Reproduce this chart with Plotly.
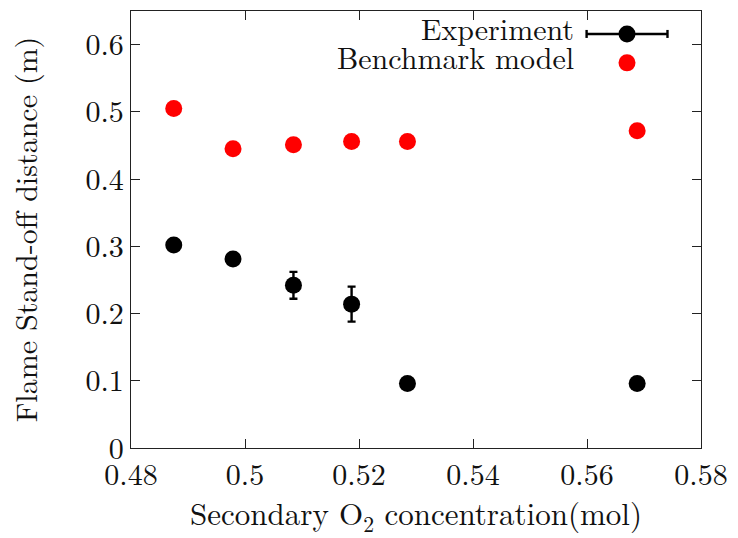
import plotly.graph_objects as go

# Secondary O2 concentration (mol)
o2_conc = [0.4875, 0.4979, 0.5085, 0.5187, 0.5285, 0.5688]

# Measured flame stand-off distance (m) and its uncertainty
experiment = [0.302, 0.281, 0.242, 0.214, 0.096, 0.096]
experiment_err = [0.0, 0.0, 0.020, 0.026, 0.0, 0.0]

# Benchmark model prediction (m)
benchmark = [0.505, 0.445, 0.451, 0.456, 0.456, 0.472]

FONT = "Latin Modern Roman"
FSIZE = 30
INK = "#111111"

fig = go.Figure()

fig.add_trace(go.Scatter(
    x=o2_conc, y=experiment, mode="markers", name="Experiment",
    marker=dict(color="black", size=17),
    error_y=dict(type="data", array=experiment_err, visible=True,
                 color="black", thickness=2.4, width=4),
    showlegend=False,
))

fig.add_trace(go.Scatter(
    x=o2_conc, y=benchmark, mode="markers", name="Benchmark model",
    marker=dict(color="#ff0000", size=17),
    showlegend=False,
))

# gnuplot-style key: labels right-aligned, samples to their right
key_text_x = 0.781
key_text_rows = [0.962, 0.895]
key_rows = [0.9475, 0.8813]
key_sample_x0, key_sample_x1, key_dot_x = 0.7993, 0.9412, 0.8702

for row, label in zip(key_text_rows, ["Experiment", "Benchmark model"]):
    fig.add_annotation(x=key_text_x, y=row, xref="paper", yref="paper",
                       text=label, showarrow=False, xanchor="right",
                       yanchor="middle", font=dict(family=FONT, size=FSIZE, color=INK))

shapes = [
    dict(type="line", xref="paper", yref="paper",
         x0=key_sample_x0, x1=key_sample_x1, y0=key_rows[0], y1=key_rows[0],
         line=dict(color="black", width=2.4)),
]
for xc in (key_sample_x0, key_sample_x1):
    shapes.append(dict(type="line", xref="paper", yref="paper",
                       xsizemode="pixel", ysizemode="pixel",
                       xanchor=xc, yanchor=key_rows[0],
                       x0=0, x1=0, y0=-4, y1=4,
                       line=dict(color="black", width=2.4)))
for yc, col in ((key_rows[0], "black"), (key_rows[1], "#ff0000")):
    shapes.append(dict(type="circle", xref="paper", yref="paper",
                       xsizemode="pixel", ysizemode="pixel",
                       xanchor=key_dot_x, yanchor=yc,
                       x0=-8.5, x1=8.5, y0=-8.5, y1=8.5,
                       fillcolor=col, line=dict(color=col, width=0)))

axis_common = dict(
    showgrid=False, zeroline=False, showline=True, mirror="ticks",
    linecolor="#222222", linewidth=1.4, ticks="inside", ticklen=9,
    tickwidth=1.2, tickcolor="#222222",
    tickfont=dict(family=FONT, size=FSIZE, color=INK),
)

fig.update_layout(
    width=738, height=538,
    margin=dict(l=131, r=29, t=10, b=90),
    paper_bgcolor="white", plot_bgcolor="white",
    font=dict(family=FONT, size=FSIZE, color=INK),
    shapes=shapes,
    xaxis=dict(range=[0.48, 0.58], dtick=0.02, tick0=0.48,
               title=dict(text="Secondary O<sub>2</sub> concentration(mol)",
                          font=dict(family=FONT, size=31, color=INK), standoff=5),
               **axis_common),
    yaxis=dict(range=[0, 0.65], dtick=0.1, tick0=0,
               title=dict(text="Flame Stand-off distance (m)",
                          font=dict(family=FONT, size=FSIZE, color=INK), standoff=38),
               **axis_common),
)

fig.write_html("out.html")
